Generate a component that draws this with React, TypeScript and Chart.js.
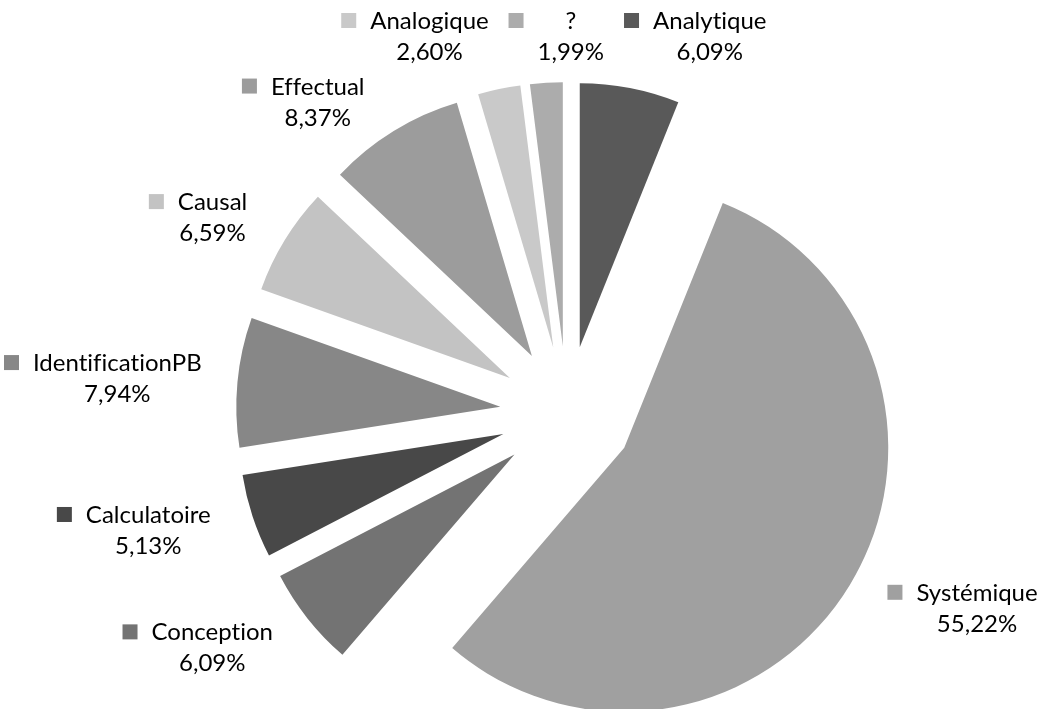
import React, { useEffect, useRef } from 'react';
import { Chart, registerables } from 'chart.js';

Chart.register(...registerables);

// ---- data (clockwise from 12 o'clock) ----
const categories = ['Analytique', 'Systémique', 'Conception', 'Calculatoire', 'IdentificationPB', 'Causal', 'Effectual', 'Analogique', '?'];
const percentages = [6.09, 55.22, 6.09, 5.13, 7.94, 6.59, 8.37, 2.60, 1.99];
const sliceColors = ['#595959', '#a0a0a0', '#737373', '#484848', '#878787', '#c3c3c3', '#9c9c9c', '#c9c9c9', '#acacac'];

// ---- styling ----
const EXPLODE = 67;
const PIE_RADIUS = 264;
const FONT = '24px Lato, "Open Sans", sans-serif';
const LINE_H = 31;
const KEY = 15;
const KEY_GAP = 14;
const LABEL_GAP = 44;
const MX = 20;
const MY = 4;
const TOP_MIN = 5;

const fmt = (v: number) => v.toFixed(2).replace('.', ',') + '%';
const clamp1 = (v: number) => Math.max(-1, Math.min(1, v));

const explodePlugin = {
  id: 'explodeSlices',
  beforeDatasetDraw(chart: any, args: any) {
    const ctx = chart.ctx;
    args.meta.data.forEach((arc: any) => {
      const mid = (arc.startAngle + arc.endAngle) / 2;
      ctx.save();
      ctx.translate(Math.cos(mid) * EXPLODE, Math.sin(mid) * EXPLODE);
      arc.draw(ctx);
      ctx.restore();
    });
    return false;
  },
};

const labelPlugin = {
  id: 'outsideLabels',
  afterDraw(chart: any) {
    const ctx = chart.ctx;
    const meta = chart.getDatasetMeta(0);
    ctx.save();
    ctx.font = FONT;
    try {
      (ctx as any).letterSpacing = '0.01px';
    } catch (e) {
      /* ignore */
    }
    const boxes = meta.data.map((arc: any, i: number) => {
      const mid = (arc.startAngle + arc.endAngle) / 2;
      const c = Math.cos(mid);
      const s = Math.sin(mid);
      const name = String(chart.data.labels[i]);
      const pct = fmt(chart.data.datasets[0].data[i]);
      const nw = ctx.measureText(name).width;
      const pw = ctx.measureText(pct).width;
      const tw = Math.max(nw, pw);
      const w = tw + KEY + KEY_GAP;
      const h = LINE_H * 2;
      const R = arc.outerRadius + EXPLODE + LABEL_GAP;
      const px = arc.x + R * c;
      const py = arc.y + R * s;
      const dx = (w / 2) * clamp1(c * 2.5);
      const dy = (h / 2) * Math.sign(s) * Math.max(0, (Math.abs(s) - 0.6) / 0.4);
      return { i, name, pct, tw, w, h, x: px + dx - w / 2, y: py + dy - h / 2 };
    });
    const W = chart.width;
    const H = chart.height;
    const clamp = (b: any) => {
      b.x = Math.min(Math.max(b.x, 4), W - 4 - b.w);
      b.y = Math.min(Math.max(b.y, TOP_MIN), H - 4 - b.h);
    };
    boxes.forEach(clamp);
    for (let it = 0; it < 300; it++) {
      let moved = false;
      for (let a = 0; a < boxes.length; a++) {
        for (let b = a + 1; b < boxes.length; b++) {
          const A = boxes[a];
          const B = boxes[b];
          const ox = Math.min(A.x + A.w, B.x + B.w) - Math.max(A.x, B.x) + MX;
          const oy = Math.min(A.y + A.h, B.y + B.h) - Math.max(A.y, B.y) + MY;
          if (ox > 0.5 && oy > 0.5) {
            moved = true;
            const bothTop = A.y <= TOP_MIN + 0.5 && B.y <= TOP_MIN + 0.5;
            if (bothTop || ox < oy) {
              const sg = A.x + A.w / 2 < B.x + B.w / 2 ? 1 : -1;
              A.x -= (sg * ox) / 2;
              B.x += (sg * ox) / 2;
            } else {
              const sg = A.y + A.h / 2 < B.y + B.h / 2 ? 1 : -1;
              A.y -= (sg * oy) / 2;
              B.y += (sg * oy) / 2;
            }
            clamp(A);
            clamp(B);
          }
        }
      }
      if (!moved) break;
    }
    ctx.textAlign = 'center';
    ctx.textBaseline = 'alphabetic';
    boxes.forEach((b: any) => {
      const tx = b.x + KEY + KEY_GAP + b.tw / 2;
      const base1 = b.y + 24;
      const base2 = base1 + LINE_H;
      ctx.fillStyle = sliceColors[b.i];
      ctx.fillRect(b.x, base1 - 16, KEY, KEY);
      ctx.fillStyle = '#000000';
      ctx.fillText(b.name, tx, base1);
      ctx.fillText(b.pct, tx, base2);
    });
    ctx.restore();
  },
};

export default function App() {
  const canvasRef = useRef<HTMLCanvasElement | null>(null);

  useEffect(() => {
    document.body.style.margin = '0';
    const canvas = canvasRef.current;
    if (!canvas) return;
    const chart = new Chart(canvas, {
      type: 'pie',
      data: {
        labels: categories,
        datasets: [
          {
            data: percentages,
            backgroundColor: sliceColors,
            borderWidth: 0,
            radius: PIE_RADIUS,
          },
        ],
      },
      options: {
        responsive: false,
        animation: false,
        devicePixelRatio: 1,
        events: [],
        layout: { padding: { left: 80, right: 0, top: 117, bottom: 0 } },
        plugins: {
          legend: { display: false },
          tooltip: { enabled: false },
        },
      },
      plugins: [explodePlugin, labelPlugin],
    } as any);
    return () => chart.destroy();
  }, []);

  return (
    <div style={{ width: 1054, height: 709, background: '#ffffff' }}>
      <canvas ref={canvasRef} width={1054} height={709} style={{ display: 'block' }} />
    </div>
  );
}
